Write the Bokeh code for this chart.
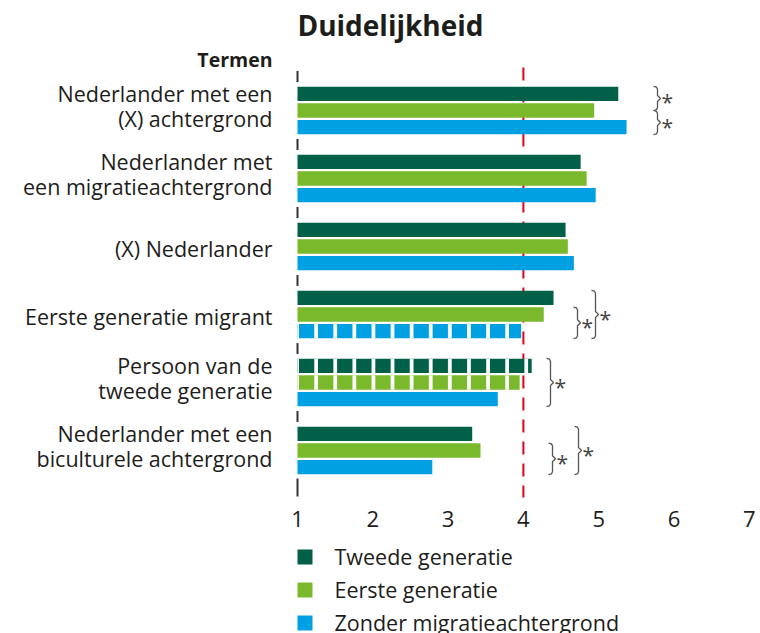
from bokeh.plotting import figure
from bokeh.models import Range1d, ColumnDataSource
from bokeh.core.properties import value
from bokeh.embed import file_html
from bokeh.resources import INLINE

# ---------------- data ----------------
title = "Duidelijkheid"
axis_title = "Termen"
terms = [
    "Nederlander met een\n(X) achtergrond",
    "Nederlander met\neen migratieachtergrond",
    "(X) Nederlander",
    "Eerste generatie migrant",
    "Persoon van de\ntweede generatie",
    "Nederlander met een\nbiculturele achtergrond",
]
series = ["Tweede generatie", "Eerste generatie", "Zonder migratieachtergrond"]
tweede = [5.26, 4.76, 4.56, 4.40, 4.11, 3.32]
eerste = [4.94, 4.84, 4.59, 4.27, 3.95, 3.43]
zonder = [5.37, 4.96, 4.67, 3.97, 3.66, 2.79]
tweede_hatched = [False, False, False, False, True, False]
eerste_hatched = [False, False, False, False, True, False]
zonder_hatched = [False, False, False, True, False, False]
x_ticks = [1, 2, 3, 4, 5, 6, 7]
reference_line = 4
# significance brackets: (term index, from bar edge, to bar edge, column)
brackets = [
    (0, -0.45, 1.0, 0), (0, 1.0, 2.45, 0),
    (3, 0.55, 2.45, 1), (3, -0.45, 2.45, 2),
    (4, -0.45, 2.45, 1),
    (5, 0.55, 2.45, 1), (5, -0.45, 2.45, 2),
]
colors = ["#025f48", "#7ab82c", "#00a0e2"]

# ---------------- layout helpers ----------------
W, H = 760, 633
PX_UNIT = 75.3          # pixels per x unit
X0 = 297                # canvas x of value 1
Y_UNIT = 68.0           # pixels per group
Y0 = 110                # canvas y of first group centre
xs_start = 1 - X0 / PX_UNIT
xs_end = 1 + (W - X0) / PX_UNIT
ys_top = -Y0 / Y_UNIT
ys_bot = (H - Y0) / Y_UNIT


def dx(px):  # canvas pixel x -> data
    return 1 + (px - X0) / PX_UNIT


def dy(py):  # canvas pixel y -> data
    return (py - Y0) / Y_UNIT


p = figure(width=W, height=H, output_backend="svg", toolbar_location=None,
           x_range=Range1d(xs_start, xs_end), y_range=Range1d(ys_bot, ys_top),
           min_border=0, min_border_left=0, min_border_right=0,
           min_border_top=0, min_border_bottom=0)
p.axis.visible = False
p.grid.visible = False
p.outline_line_color = None
p.background_fill_color = "white"
p.border_fill_color = "white"

FONT = "Open Sans"
TXT = "#1d1d1b"

# reference line (dashed)
p.segment(x0=[reference_line], x1=[reference_line], y0=[dy(67)], y1=[dy(497)],
          line_color="#e2001a", line_width=2, line_dash="13 9")

# separators on the base line
n = len(terms)
sep_y0 = [k - 0.5 - 0.08 for k in range(n)] + [dy(478)]
sep_y1 = [k - 0.5 + 0.08 for k in range(n)] + [dy(496)]
p.segment(x0=[1] * (n + 1), x1=[1] * (n + 1), y0=sep_y0, y1=sep_y1,
          line_color="#333333", line_width=2)

# bars
BAR_OFF = 0.245
BAR_H = 0.21
for si, (vals, hatched) in enumerate([(tweede, tweede_hatched),
                                      (eerste, eerste_hatched),
                                      (zonder, zonder_hatched)]):
    src = ColumnDataSource(dict(
        y=[g + (si - 1) * BAR_OFF for g in range(n)],
        right=vals,
        hp=["|" if h else " " for h in hatched],
    ))
    p.hbar(y="y", left=1, right="right", height=BAR_H, source=src,
           fill_color=colors[si], line_color=None,
           hatch_pattern="hp", hatch_color="white", hatch_weight=3.7,
           hatch_scale=19.1)

# brackets with asterisks
col_px_by_term = {(3, 1): 577, (3, 2): 595, (4, 1): 550, (5, 1): 552, (5, 2): 578,
                  (0, 0): 657}
bxs, bys, ax, ay = [], [], [], []
for (g, s0, s1, c) in brackets:
    xp = col_px_by_term[(g, c)]
    y1 = g + (s0 - 1) * BAR_OFF
    y2 = g + (s1 - 1) * BAR_OFF
    ym = (y1 + y2) / 2
    h = 3 / Y_UNIT
    bxs.append([dx(xp - 4), dx(xp - 1), dx(xp), dx(xp), dx(xp + 3), dx(xp), dx(xp), dx(xp - 1), dx(xp - 4)])
    bys.append([y1, y1 + h * 0.3, y1 + h, ym - h, ym, ym + h, y2 - h, y2 - h * 0.3, y2])
    ax.append(dx(xp + 4))
    ay.append(ym + 4 / Y_UNIT)
p.multi_line(xs=bxs, ys=bys, line_color="#555555", line_width=1.3)
p.text(x=ax, y=ay, text=["*"] * len(ax), text_font=value(FONT), text_font_size="21px",
       text_color="#444444", text_baseline="middle", text_align="left")

# title and axis title
p.text(x=[dx(390)], y=[dy(24)], text=[title], text_font=value(FONT),
       text_font_style="bold", text_font_size="28px", text_color=TXT,
       text_align="center", text_baseline="middle")
p.text(x=[dx(272)], y=[dy(59)], text=[axis_title], text_font=value(FONT),
       text_font_style="bold", text_font_size="19.5px", text_color=TXT,
       text_align="right", text_baseline="middle")

# category labels
lx, ly, lt = [], [], []
for g, t in enumerate(terms):
    lines = t.split("\n")
    offs = [-17, 8] if len(lines) == 2 else [1.5]
    for line, o in zip(lines, offs):
        lx.append(dx(272))
        ly.append(g + o / Y_UNIT)
        lt.append(line)
p.text(x=lx, y=ly, text=lt, text_font=value(FONT), text_font_size="21.5px",
       text_color=TXT, text_align="right", text_baseline="middle")

# tick labels
p.text(x=x_ticks, y=[dy(518.5)] * len(x_ticks), text=[str(t) for t in x_ticks],
       text_font=value(FONT), text_font_size="22px", text_color=TXT,
       text_align="center", text_baseline="middle")

# legend
leg_y = [dy(556.5), dy(589.5), dy(622.5)]
p.rect(x=[dx(304.5)] * 3, y=leg_y, width=15, height=15, width_units="screen",
       height_units="screen", fill_color=colors, line_color=None)
p.text(x=[dx(334)] * 3, y=[dy(555.5), dy(588.5), dy(621.5)], text=series,
       text_font=value(FONT), text_font_size="21.5px", text_color=TXT,
       text_align="left", text_baseline="middle")

open("out.html", "w").write(file_html(p, INLINE))
